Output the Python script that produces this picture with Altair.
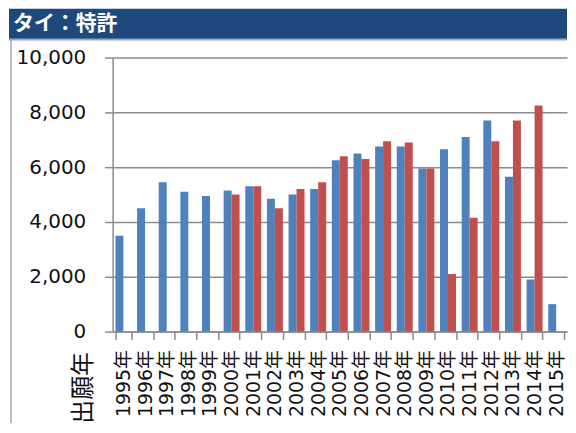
import altair as alt
import pandas as pd

years = ["1995年", "1996年", "1997年", "1998年", "1999年", "2000年", "2001年",
         "2002年", "2003年", "2004年", "2005年", "2006年", "2007年", "2008年",
         "2009年", "2010年", "2011年", "2012年", "2013年", "2014年", "2015年"]
blue_vals = [3500, 4500, 5450, 5100, 4950, 5150, 5300, 4850, 5000, 5200, 6250,
             6500, 6750, 6750, 5950, 6650, 7100, 7700, 5650, 1900, 1000]
red_vals = [None, None, None, None, None, 5000, 5300, 4500, 5200, 5450, 6400,
            6300, 6950, 6900, 5950, 2100, 4150, 6950, 7700, 8250, None]
series_names = ["出願件数", "登録件数"]
series_colors = ["#4F81BD", "#C0504D"]
title_text = ["タイ：特許"]

rows = []
for y, b, r in zip(years, blue_vals, red_vals):
    if b is not None:
        rows.append({"year": y, "series": series_names[0], "value": b})
    if r is not None:
        rows.append({"year": y, "series": series_names[1], "value": r})
df = pd.DataFrame(rows)

W, H = 456, 275
GRAY = "#8C8C8C"

bars = alt.Chart(df).mark_bar().encode(
    x=alt.X("year:N", sort=years,
            scale=alt.Scale(domain=years, paddingInner=0.263, paddingOuter=0.13),
            axis=alt.Axis(title="出願年", titleAngle=270, titleX=-29, titleY=92,
                          titleAlign="left", titleBaseline="middle",
                          titleFont="Noto Sans CJK JP", titleFontSize=24,
                          titleFontWeight="normal", titleColor="#111111",
                          labelAngle=270, labelFont="DejaVu Sans, Noto Sans CJK JP",
                          labelFontSize=19,
                          labelColor="#111111", labelPadding=10,
                          tickSize=8, tickColor=GRAY, tickWidth=1.5,
                          domainColor=GRAY, domainWidth=1.5,
                          tickBand="extent", grid=False)),
    xOffset=alt.XOffset("series:N", sort=series_names,
                        scale=alt.Scale(domain=series_names, paddingInner=0, paddingOuter=0)),
    y=alt.Y("value:Q",
            scale=alt.Scale(domain=[0, 10000], nice=False),
            axis=alt.Axis(title=None, values=[0, 2000, 4000, 6000, 8000, 10000],
                          format=",d", labelFont="DejaVu Sans", labelFontSize=20,
                          labelColor="#111111", labelPadding=19,
                          tickSize=8, tickColor=GRAY, tickWidth=1.5,
                          domainColor=GRAY, domainWidth=1.5,
                          grid=True, gridColor=GRAY, gridWidth=1.5)),
    color=alt.Color("series:N", sort=series_names,
                    scale=alt.Scale(domain=series_names, range=series_colors),
                    legend=None),
)

deco = alt.Chart(pd.DataFrame({"t": title_text}))

title_bar = deco.mark_rect(color="#1F497D").encode(
    x=alt.value(-104), x2=alt.value(W), y=alt.value(-49), y2=alt.value(-19)
)
title_label = deco.mark_text(align="left", baseline="middle", font="Noto Sans CJK JP",
                             fontSize=21, fontWeight="bold", color="white").encode(
    x=alt.value(-100), y=alt.value(-34), text="t:N"
)
top_line = deco.mark_rule(color="#A6A6A6", strokeWidth=1.5).encode(
    x=alt.value(-104), x2=alt.value(W), y=alt.value(-18)
)
left_line = deco.mark_rule(color="#A6A6A6", strokeWidth=1.5).encode(
    x=alt.value(-102), y=alt.value(-18), y2=alt.value(H + 92)
)

chart = alt.layer(bars, title_bar, title_label, top_line, left_line).properties(
    width=W, height=H, padding=0, background="white"
).configure_view(stroke=None)

chart.save("out.html", embed_options={"renderer": "svg", "actions": False})
